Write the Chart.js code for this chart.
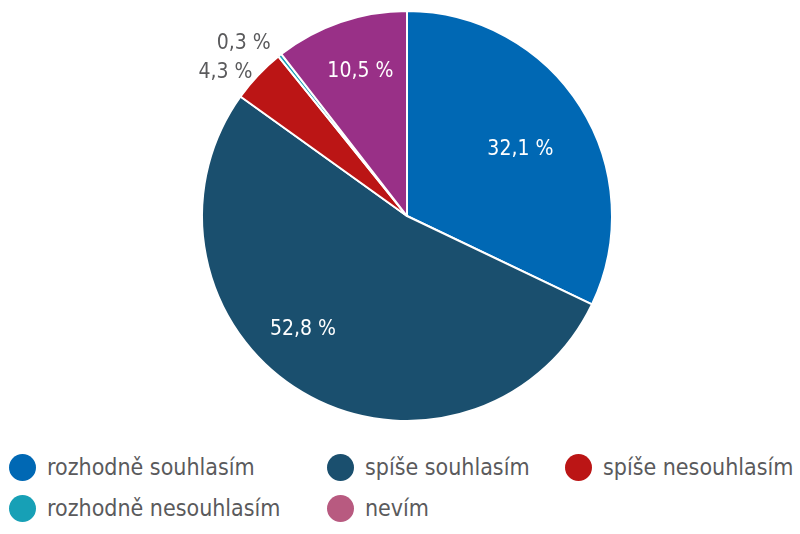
<!DOCTYPE html>
<html>
<head>
<meta charset="utf-8">
<script src="https://cdn.jsdelivr.net/npm/chart.js@4/dist/chart.umd.min.js"></script>
<style>
  html,body{margin:0;padding:0;background:#fff;}
  #wrap{position:relative;width:800px;height:534px;overflow:hidden;}
  #c{position:absolute;left:0;top:0;}
  .lg{position:absolute;display:flex;align-items:center;font-family:"DejaVu Sans Condensed","DejaVu Sans",sans-serif;font-size:23px;color:#5a5a5c;white-space:nowrap;height:28px;}
  .lg i{display:inline-block;width:27px;height:27px;border-radius:50%;margin-right:11px;flex:none;}
</style>
</head>
<body>
<div id="wrap">
  <canvas id="c" width="800" height="432"></canvas>
  <div id="legend"></div>
</div>
<script>
// ---- data ----
const categories = ["rozhodně souhlasím","spíše souhlasím","spíše nesouhlasím","rozhodně nesouhlasím","nevím"];
const values = [32.1, 52.8, 4.3, 0.3, 10.5];
const valueLabels = ["32,1 %","52,8 %","4,3 %","0,3 %","10,5 %"];
// ---- styles ----
const sliceColors = ["#0068b4","#1a4f6e","#bb1515","#17a0b6","#993087"];
const legendColors = ["#0068b4","#1a4f6e","#bb1515","#17a0b6","#b85a80"];
const labelColors = ["#ffffff","#ffffff","#5a5a5c","#5a5a5c","#ffffff"];
const labelRadius = [0.64, 0.75, 1.13, 1.16, 0.74];
const labelAngleShift = [2, 12, -5, -5, 1]; // degrees
const legendPos = [[9,453],[327,453],[565,453],[9,494],[327,494]];

const labelPlugin = {
  id:'sliceLabels',
  afterDatasetsDraw(chart){
    const ctx = chart.ctx;
    const meta = chart.getDatasetMeta(0);
    ctx.save();
    ctx.font = '21px "DejaVu Sans Condensed","DejaVu Sans",sans-serif';
    ctx.textAlign='center';
    ctx.textBaseline='middle';
    meta.data.forEach((arc,i)=>{
      const p = arc.getProps(['x','y','startAngle','endAngle','outerRadius'],true);
      const a = (p.startAngle+p.endAngle)/2 + labelAngleShift[i]*Math.PI/180;
      const r = p.outerRadius*labelRadius[i];
      ctx.fillStyle = labelColors[i];
      ctx.fillText(valueLabels[i], p.x+Math.cos(a)*r, p.y+Math.sin(a)*r);
    });
    ctx.restore();
  }
};

new Chart(document.getElementById('c'),{
  type:'pie',
  data:{labels:categories,datasets:[{data:values,backgroundColor:sliceColors,borderColor:'#ffffff',borderWidth:2}]},
  options:{
    responsive:false,animation:false,
    layout:{padding:{top:10,bottom:10,left:14,right:0}},
    plugins:{legend:{display:false},tooltip:{enabled:false}}
  },
  plugins:[labelPlugin]
});

const lg = document.getElementById('legend');
categories.forEach((c,i)=>{
  const d=document.createElement('div');
  d.className='lg';
  d.style.left=legendPos[i][0]+'px';
  d.style.top=legendPos[i][1]+'px';
  d.innerHTML='<i style="background:'+legendColors[i]+'"></i><span></span>';
  d.querySelector('span').textContent=c;
  lg.appendChild(d);
});
</script>
</body>
</html>
